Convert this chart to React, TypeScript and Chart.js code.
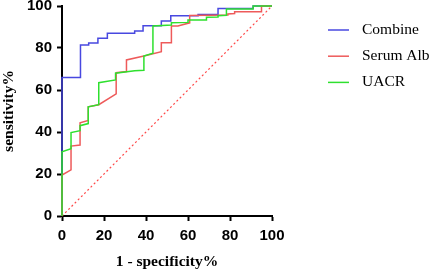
import React, { useEffect, useRef } from "react";
import { Chart, registerables } from "chart.js";
Chart.register(...registerables);

const seriesLabels = ["Combine", "Serum Alb", "UACR"];
const seriesColors = ["#4848e0", "#ee5a5a", "#2ee02e"];

const combineX = [0, 0, 8.8, 8.8, 12.7, 12.7, 17.1, 17.1, 21.6, 21.6, 34.6, 34.6, 38.6, 38.6, 47.3, 47.3, 51.8, 51.8, 64.8, 64.8, 74.3, 74.3, 91, 91, 100];
const combineY = [0, 66, 66, 81.4, 81.4, 82.4, 82.4, 84.6, 84.6, 87, 87, 88.1, 88.1, 90.6, 90.6, 92.9, 92.9, 95.4, 95.4, 96, 96, 98.8, 98.8, 100, 100];

const serumX = [0, 0, 4.3, 4.3, 8.6, 8.6, 12.5, 12.5, 17.5, 25.8, 25.8, 30.7, 30.7, 39, 47.3, 47.3, 52.1, 52.1, 55.2, 60.8, 60.8, 79, 79, 82.2, 82.2, 95, 95, 100];
const serumY = [0, 19.5, 22, 33.3, 33.8, 44.4, 45.5, 52, 53, 58.2, 68.2, 68.8, 74.3, 76.2, 78.2, 82.5, 82.5, 90.5, 90.5, 92, 95.5, 95.7, 96.2, 96.4, 97.3, 97.3, 100, 100];

const uacrX = [0, 0, 4.3, 4.3, 8.6, 8.6, 12.5, 12.5, 17.5, 17.5, 25.5, 25.5, 34.6, 39, 39, 43.3, 43.3, 52.1, 52.1, 60, 60, 68.8, 68.8, 74.3, 74.3, 78.3, 78.3, 91, 91, 100];
const uacrY = [0, 30.6, 32, 39.7, 40.6, 43, 44, 52, 53, 63.5, 64.8, 68, 69.2, 69.4, 76.2, 77.5, 90.5, 90.9, 92, 92.2, 93.3, 93.3, 94.6, 94.8, 95.4, 95.6, 98.6, 98.6, 100, 100];

const refX = [0, 100];
const refY = [0, 100];

const tickValues = [0, 20, 40, 60, 80, 100];
const xTitle = "1 - specificity%";
const yTitle = "sensitivity%";

const toPts = (xs: number[], ys: number[]) => xs.map((x, i) => ({ x, y: ys[i] }));

export default function App() {
  const ref = useRef<HTMLCanvasElement>(null);
  useEffect(() => {
    document.body.style.margin = "0";
    const canvas = ref.current!;
    const tickFont = { family: "'Liberation Sans', Arial, sans-serif", size: 15, weight: "bold" as const };
    const titleFont = { family: "'Liberation Serif', 'Times New Roman', serif", size: 15.5, weight: "bold" as const };

    const legendPlugin = {
      id: "sideLegend",
      afterDraw(chart: any) {
        const c = chart.ctx;
        const area = chart.chartArea;
        c.save();
        c.font = "15.5px 'Liberation Serif', 'Times New Roman', serif";
        c.textBaseline = "middle";
        c.textAlign = "left";
        seriesLabels.forEach((label, i) => {
          const y = area.top + 24 + i * 26.2;
          c.strokeStyle = seriesColors[i];
          c.lineWidth = 1.5;
          c.beginPath();
          c.moveTo(area.right + 56, y);
          c.lineTo(area.right + 77, y);
          c.stroke();
          c.fillStyle = "#000";
          c.fillText(label, area.right + 90, y);
        });
        c.restore();
      },
    };

    const axisCommon = (title: string, isX: boolean) => ({
      type: "linear" as const,
      min: 0,
      max: 100,
      afterBuildTicks: (s: any) => {
        s.ticks = tickValues.map((v) => ({ value: v }));
      },
      ticks: { font: tickFont, color: "#000", padding: isX ? 6 : 5 },
      grid: {
        drawOnChartArea: false,
        drawTicks: true,
        tickLength: 5,
        tickWidth: 2,
        color: "#000",
      },
      border: { display: true, width: 2, color: "#000" },
      title: { display: true, text: title, font: titleFont, color: "#000", padding: 0 },
      afterFit: (s: any) => {
        if (isX) {
          s.height = 55;
          s.paddingLeft = 0;
          s.paddingRight = 0;
        } else {
          s.width = 62;
          s.paddingTop = 0;
          s.paddingBottom = 0;
        }
      },
    });

    const chart = new Chart(canvas, {
      type: "scatter",
      data: {
        datasets: [
          { label: seriesLabels[0], data: toPts(combineX, combineY), borderColor: seriesColors[0], order: 3 },
          { label: seriesLabels[1], data: toPts(serumX, serumY), borderColor: seriesColors[1], order: 2 },
          { label: seriesLabels[2], data: toPts(uacrX, uacrY), borderColor: seriesColors[2], order: 1 },
          {
            label: "reference",
            data: toPts(refX, refY),
            borderColor: "#ff4a4a",
            borderWidth: 1.2,
            borderDash: [2, 2.5],
            order: 4,
          },
        ].map((d: any) => ({
          showLine: true,
          pointRadius: 0,
          borderWidth: 1.5,
          tension: 0,
          clip: 3,
          fill: false,
          ...d,
        })),
      },
      options: {
        responsive: false,
        animation: false,
        devicePixelRatio: 1,
        layout: { padding: { top: 6, right: 160, left: 0, bottom: 0 } },
        plugins: { legend: { display: false }, tooltip: { enabled: false } },
        scales: {
          x: axisCommon(xTitle, true),
          y: axisCommon(yTitle, false),
        },
      } as any,
      plugins: [legendPlugin],
    });
    return () => chart.destroy();
  }, []);
  return (
    <div style={{ width: 432, height: 271 }}>
      <canvas ref={ref} width={432} height={271} style={{ display: "block" }} />
    </div>
  );
}
